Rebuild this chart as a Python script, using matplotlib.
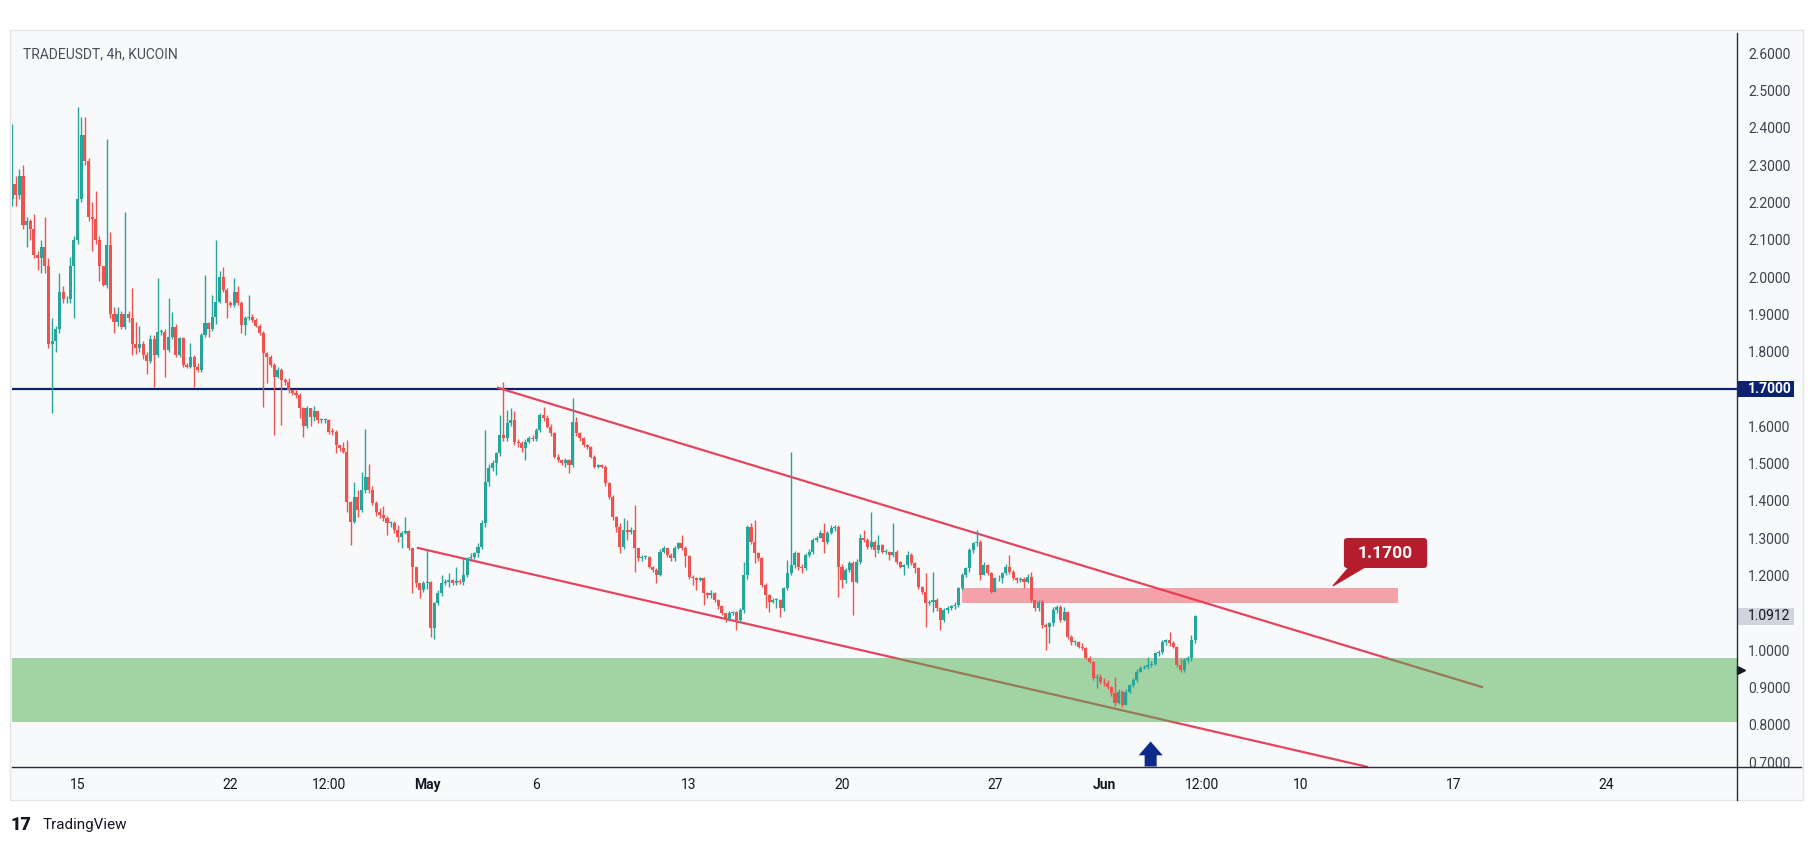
import matplotlib
matplotlib.use("Agg")
import matplotlib.pyplot as plt
import matplotlib.dates as mdates
import pandas as pd
from matplotlib.lines import Line2D
from matplotlib.patches import FancyBboxPatch, Polygon, Rectangle
from matplotlib.transforms import blended_transform_factory

plt.rcParams["font.family"] = ["Roboto", "DejaVu Sans"]

# 4h candles, first candle opens 2024-04-12 00:00
FIRST_OPEN = 2.21
CLOSE = [
    2.25, 2.22, 2.27, 2.14, 2.15, 2.13, 2.06, 2.05, 2.08, 2.03,
    1.82, 1.83, 1.86, 1.96, 1.94, 1.94, 2.03, 2.10, 2.21, 2.38,
    2.31, 2.16, 2.155, 2.10, 2.03, 1.98, 2.085, 1.90, 1.88, 1.90,
    1.865, 1.90, 1.89, 1.82, 1.81, 1.82, 1.79, 1.775, 1.835, 1.79,
    1.853, 1.853, 1.805, 1.84, 1.867, 1.79, 1.836, 1.765, 1.76, 1.786,
    1.76, 1.75, 1.845, 1.876, 1.86, 1.894, 1.934, 2.00, 1.965, 1.93,
    1.925, 1.961, 1.93, 1.871, 1.889, 1.893, 1.885, 1.87, 1.85, 1.796,
    1.787, 1.765, 1.733, 1.751, 1.724, 1.72, 1.697, 1.69, 1.683,
    1.648, 1.600, 1.648, 1.625, 1.640, 1.617, 1.617, 1.617, 1.586, 1.585,
    1.550, 1.543, 1.532, 1.398, 1.344, 1.411, 1.376, 1.429, 1.465, 1.429,
    1.394, 1.371, 1.362, 1.353, 1.340, 1.340, 1.322, 1.304, 1.313, 1.318,
    1.273, 1.224, 1.179, 1.161, 1.179, 1.183, 1.058, 1.126, 1.152, 1.179,
    1.183, 1.188, 1.180, 1.185, 1.183, 1.201, 1.246, 1.250, 1.259, 1.277,
    1.340, 1.451, 1.487, 1.501, 1.528, 1.577, 1.568, 1.608, 1.617, 1.559,
    1.555, 1.541, 1.559, 1.568, 1.566, 1.590, 1.630, 1.622, 1.599, 1.581,
    1.519, 1.510, 1.501, 1.510, 1.497, 1.612, 1.581, 1.568, 1.550, 1.545,
    1.519, 1.492, 1.497, 1.492, 1.447, 1.411, 1.358, 1.331,
    1.277, 1.322, 1.317, 1.322, 1.273, 1.246, 1.250, 1.250, 1.224, 1.215,
    1.201, 1.264, 1.273, 1.255, 1.246, 1.273, 1.286, 1.273, 1.251, 1.197,
    1.192, 1.188, 1.192, 1.152, 1.148, 1.152, 1.134, 1.117, 1.099, 1.081,
    1.099, 1.103, 1.081, 1.108, 1.201, 1.331, 1.291, 1.259, 1.246, 1.175,
    1.148, 1.130, 1.134, 1.134, 1.112, 1.166, 1.206, 1.228, 1.259, 1.224,
    1.219, 1.255, 1.264, 1.295, 1.300, 1.313, 1.291, 1.313, 1.327, 1.331,
    1.224, 1.188, 1.215, 1.233, 1.183, 1.237, 1.300, 1.295, 1.277, 1.291,
    1.268, 1.282, 1.264, 1.264, 1.255, 1.264, 1.237, 1.224, 1.228, 1.255,
    1.233, 1.219, 1.170, 1.157, 1.126, 1.130, 1.134, 1.112, 1.081, 1.108,
    1.112, 1.117, 1.121,
    1.166, 1.201, 1.219, 1.268, 1.286, 1.291, 1.201, 1.228, 1.206, 1.157,
    1.192, 1.192, 1.206, 1.224, 1.210, 1.192, 1.188, 1.190, 1.183, 1.197,
    1.134, 1.112, 1.130, 1.067, 1.063, 1.072, 1.108, 1.116, 1.081, 1.103,
    1.036, 1.022, 1.022, 1.009, 1.005, 0.978, 0.969, 0.924, 0.929, 0.915,
    0.913, 0.902, 0.884, 0.857, 0.889, 0.853, 0.889, 0.906, 0.920, 0.942,
    0.951, 0.956, 0.960, 0.964, 0.991, 0.996, 1.022, 1.027, 1.018, 1.009,
    0.960, 0.947, 0.973, 0.978, 1.027, 1.0912,
]
HIGH = [
    2.41, 2.27, 2.29, 2.30, 2.16, 2.155, 2.17, 2.07, 2.10, 2.16,
    2.05, 1.89, 1.87, 2.01, 1.975, 1.95, 2.055, 2.11, 2.457, 2.43,
    2.43, 2.32, 2.20, 2.23, 2.11, 2.03, 2.37, 2.12, 1.92, 1.92,
    1.91, 2.175, 1.91, 1.97, 1.88, 1.87, 1.83, 1.80, 1.845, 1.845,
    1.997, 1.86, 1.86, 1.943, 1.907, 1.875, 1.84, 1.84, 1.77, 1.822,
    1.79, 1.77, 1.85, 2.005, 1.88, 1.952, 2.099, 2.015, 2.028, 1.97,
    1.935, 1.997, 1.975, 1.935, 1.895, 1.952, 1.90, 1.89, 1.875, 1.855,
    1.80, 1.79, 1.77, 1.76, 1.755, 1.73, 1.73, 1.70, 1.70,
    1.69, 1.652, 1.655, 1.65, 1.654, 1.625, 1.622, 1.622, 1.62, 1.595,
    1.59, 1.55, 1.558, 1.563, 1.40, 1.451, 1.43, 1.478, 1.594, 1.50,
    1.44, 1.40, 1.38, 1.385, 1.36, 1.345, 1.345, 1.335, 1.318, 1.358,
    1.322, 1.26, 1.215, 1.18, 1.185, 1.268, 1.185, 1.13, 1.16, 1.201,
    1.19, 1.206, 1.19, 1.224, 1.19, 1.246, 1.25, 1.259, 1.262, 1.286,
    1.349, 1.590, 1.50, 1.51, 1.53, 1.630, 1.719, 1.644, 1.648, 1.64,
    1.565, 1.56, 1.565, 1.575, 1.578, 1.595, 1.635, 1.653, 1.63, 1.605,
    1.585, 1.525, 1.512, 1.515, 1.512, 1.675, 1.625, 1.585, 1.57, 1.552,
    1.548, 1.522, 1.50, 1.50, 1.495, 1.45, 1.415, 1.36,
    1.34, 1.353, 1.349, 1.33, 1.389, 1.275, 1.255, 1.256, 1.253, 1.226,
    1.22, 1.27, 1.28, 1.275, 1.26, 1.278, 1.29, 1.309, 1.278, 1.255,
    1.20, 1.196, 1.197, 1.195, 1.155, 1.161, 1.155, 1.136, 1.12, 1.10,
    1.105, 1.106, 1.105, 1.112, 1.237, 1.335, 1.34, 1.349, 1.262, 1.25,
    1.18, 1.15, 1.14, 1.14, 1.136, 1.17, 1.242, 1.532, 1.265, 1.262,
    1.23, 1.26, 1.27, 1.30, 1.305, 1.322, 1.34, 1.32, 1.335, 1.335,
    1.335, 1.23, 1.22, 1.24, 1.24, 1.245, 1.31, 1.322, 1.30, 1.371,
    1.295, 1.309, 1.285, 1.27, 1.265, 1.340, 1.268, 1.24, 1.232, 1.265,
    1.26, 1.236, 1.222, 1.172, 1.206, 1.135, 1.210, 1.14, 1.115, 1.112,
    1.118, 1.122, 1.13,
    1.17, 1.206, 1.224, 1.273, 1.29, 1.322, 1.295, 1.235, 1.23, 1.21,
    1.197, 1.20, 1.21, 1.23, 1.255, 1.215, 1.197, 1.195, 1.195, 1.205,
    1.21, 1.135, 1.135, 1.135, 1.072, 1.075, 1.115, 1.122, 1.12, 1.115,
    1.105, 1.04, 1.028, 1.025, 1.018, 1.008, 0.985, 0.97, 0.935, 0.935,
    0.925, 0.92, 0.905, 0.929, 0.895, 0.892, 0.895, 0.91, 0.925, 0.948,
    0.957, 0.96, 0.982, 0.97, 0.995, 1.00, 1.027, 1.03, 1.049, 1.025,
    1.012, 0.978, 0.978, 0.985, 1.04, 1.095,
]
LOW = [
    2.19, 2.19, 2.21, 2.13, 2.08, 2.10, 2.05, 2.02, 2.01, 2.01,
    1.81, 1.635, 1.80, 1.85, 1.93, 1.93, 1.93, 1.89, 2.09, 2.20,
    2.30, 2.15, 2.07, 2.09, 1.99, 1.975, 1.97, 1.89, 1.85, 1.87,
    1.86, 1.86, 1.88, 1.79, 1.795, 1.80, 1.78, 1.74, 1.77, 1.706,
    1.785, 1.845, 1.733, 1.80, 1.835, 1.785, 1.785, 1.76, 1.755, 1.755,
    1.706, 1.745, 1.745, 1.84, 1.84, 1.855, 1.875, 1.93, 1.96, 1.89,
    1.92, 1.92, 1.925, 1.85, 1.845, 1.885, 1.88, 1.865, 1.845, 1.653,
    1.715, 1.76, 1.577, 1.73, 1.603, 1.71, 1.69, 1.685, 1.675,
    1.621, 1.572, 1.595, 1.60, 1.615, 1.61, 1.61, 1.61, 1.58, 1.578,
    1.528, 1.535, 1.528, 1.371, 1.282, 1.34, 1.358, 1.37, 1.42, 1.42,
    1.39, 1.36, 1.355, 1.345, 1.309, 1.33, 1.315, 1.291, 1.273, 1.31,
    1.268, 1.152, 1.17, 1.139, 1.155, 1.165, 1.036, 1.031, 1.12, 1.145,
    1.175, 1.17, 1.175, 1.175, 1.178, 1.175, 1.195, 1.24, 1.245, 1.25,
    1.27, 1.33, 1.44, 1.48, 1.469, 1.52, 1.56, 1.56, 1.60, 1.55,
    1.545, 1.532, 1.510, 1.555, 1.56, 1.56, 1.585, 1.615, 1.595, 1.575,
    1.515, 1.505, 1.495, 1.49, 1.474, 1.49, 1.575, 1.56, 1.545, 1.54,
    1.515, 1.488, 1.488, 1.488, 1.44, 1.405, 1.35, 1.317,
    1.259, 1.272, 1.295, 1.31, 1.210, 1.24, 1.24, 1.245, 1.22, 1.21,
    1.179, 1.198, 1.26, 1.25, 1.24, 1.24, 1.27, 1.268, 1.224, 1.19,
    1.175, 1.161, 1.185, 1.121, 1.14, 1.139, 1.13, 1.11, 1.095, 1.076,
    1.078, 1.095, 1.054, 1.076, 1.10, 1.19, 1.285, 1.233, 1.24, 1.17,
    1.112, 1.103, 1.125, 1.112, 1.090, 1.105, 1.16, 1.20, 1.22, 1.215,
    1.206, 1.215, 1.25, 1.258, 1.29, 1.30, 1.259, 1.285, 1.31, 1.32,
    1.143, 1.166, 1.18, 1.21, 1.094, 1.18, 1.23, 1.29, 1.27, 1.27,
    1.250, 1.26, 1.26, 1.258, 1.242, 1.25, 1.23, 1.22, 1.201, 1.22,
    1.228, 1.206, 1.165, 1.15, 1.063, 1.12, 1.103, 1.105, 1.054, 1.076,
    1.10, 1.108, 1.11,
    1.115, 1.16, 1.195, 1.21, 1.26, 1.28, 1.188, 1.20, 1.20, 1.152,
    1.155, 1.185, 1.179, 1.20, 1.205, 1.188, 1.18, 1.183, 1.166, 1.18,
    1.13, 1.105, 1.105, 1.06, 1.000, 1.018, 1.065, 1.10, 1.075, 1.078,
    1.03, 1.015, 1.015, 1.005, 1.00, 0.975, 0.965, 0.92, 0.898, 0.91,
    0.905, 0.895, 0.878, 0.85, 0.855, 0.848, 0.852, 0.885, 0.90, 0.915,
    0.94, 0.948, 0.95, 0.955, 0.96, 0.985, 0.99, 1.015, 1.012, 1.005,
    0.955, 0.94, 0.94, 0.965, 0.97, 1.02,
]

# 1.1000 is hidden behind the last-price label in the original
PRICE_TICKS = [0.7, 0.8, 0.9, 1.0, 1.2, 1.3, 1.4, 1.5, 1.6,
               1.7, 1.8, 1.9, 2.0, 2.1, 2.2, 2.3, 2.4, 2.5, 2.6]
DATE_TICKS = ["2024-04-15", "2024-04-22", "2024-04-26 12:00", "2024-05-01",
              "2024-05-06", "2024-05-13", "2024-05-20", "2024-05-27",
              "2024-06-01", "2024-06-05 12:00", "2024-06-10", "2024-06-17",
              "2024-06-24"]
DATE_LABELS = ["15", "22", "12:00", "May", "6", "13", "20", "27", "Jun",
               "12:00", "10", "17", "24"]

LEVEL = 1.70
LAST_PRICE = 1.0912
UPPER_LINE = (["2024-05-04 04:50", "2024-06-18 08:25"], [1.704, 0.900])
LOWER_LINE = (["2024-04-30 12:45", "2024-06-13 02:00"], [1.2745, 0.6866])
GREEN_ZONE = (0.806, 0.978)
PINK_ZONE = ("2024-05-25 11:30", "2024-06-14 10:30", 1.1276, 1.167)
CALLOUT_TEXT = "1.1700"
CALLOUT_BOX = ("2024-06-11 23:30", "2024-06-15 19:00", 1.2201, 1.3005)
CALLOUT_TIP = ("2024-06-11 11:30", 1.172)
CALLOUT_BASE = ("2024-06-12 06:30", "2024-06-13 01:00", 1.226)
ARROW = ("2024-06-03 03:10", 0.688, 0.067)
MARKER_PRICE = 0.947

GREEN = "#26a69a"
RED = "#ef5350"
NAVY = "#0d226e"
CHANNEL = "#e3455f"
PANEL = "#f8f9fb"
W, H = 1815, 846


def fx(px):
    return px / W


def fy(py):
    return 1 - py / H


def dnum(s):
    return mdates.date2num(pd.Timestamp(s).to_pydatetime())


fig = plt.figure(figsize=(W / 100, H / 100), dpi=100, facecolor="white")
fig.add_artist(Rectangle((fx(10), fy(800)), fx(1803) - fx(10), fy(30) - fy(800),
                         transform=fig.transFigure, fc=PANEL, ec="#e3e5eb", lw=1, zorder=0))
ax = fig.add_axes([fx(12), fy(767), fx(1737) - fx(12), fy(33) - fy(767)])
ax.set_facecolor(PANEL)
for sp in ax.spines.values():
    sp.set_visible(False)

# drawings under the candles
ax.axhline(LEVEL, color=NAVY, lw=1.6, zorder=2)
ax.plot([dnum(t) for t in UPPER_LINE[0]], UPPER_LINE[1], color=CHANNEL, lw=1.6, zorder=2,
        solid_capstyle="butt")
ax.plot([dnum(t) for t in LOWER_LINE[0]], LOWER_LINE[1], color=CHANNEL, lw=1.6, zorder=2,
        solid_capstyle="butt")
ax.axhspan(GREEN_ZONE[0], GREEN_ZONE[1], color="#4caf50", alpha=0.5, lw=0, zorder=3)
p0, p1 = dnum(PINK_ZONE[0]), dnum(PINK_ZONE[1])
ax.add_patch(Rectangle((p0, PINK_ZONE[2]), p1 - p0, PINK_ZONE[3] - PINK_ZONE[2],
                       fc="#f23645", alpha=0.45, lw=0, zorder=3))

# candles
times = pd.date_range("2024-04-12 00:00", periods=len(CLOSE), freq="4h")
x = mdates.date2num(times.to_pydatetime())
opens = [FIRST_OPEN] + CLOSE[:-1]
colors = [GREEN if c >= o else RED for o, c in zip(opens, CLOSE)]
ax.vlines(x, LOW, HIGH, colors=colors, lw=1.0, zorder=4)
bottoms = [min(o, c) for o, c in zip(opens, CLOSE)]
heights = [max(abs(c - o), 0.0025) for o, c in zip(opens, CLOSE)]
ax.bar(x, heights, bottom=bottoms, width=0.14, color=colors, lw=0, zorder=4)

# callout
b0, b1 = dnum(CALLOUT_BOX[0]), dnum(CALLOUT_BOX[1])
ax.add_patch(Polygon([(dnum(CALLOUT_BASE[0]), CALLOUT_BASE[2]),
                      (dnum(CALLOUT_BASE[1]), CALLOUT_BASE[2]),
                      (dnum(CALLOUT_TIP[0]), CALLOUT_TIP[1])],
                     closed=True, fc="#b71c2c", ec="#b71c2c", lw=0.8, zorder=5))
ax.add_patch(FancyBboxPatch((b0, CALLOUT_BOX[2]), b1 - b0, CALLOUT_BOX[3] - CALLOUT_BOX[2],
                            boxstyle="round,pad=0,rounding_size=0.16",
                            mutation_aspect=0.0586, fc="#b71c2c", ec="none", zorder=5))
ax.text((b0 + b1) / 2, (CALLOUT_BOX[2] + CALLOUT_BOX[3]) / 2, CALLOUT_TEXT,
        ha="center", va="center", color="white", fontsize=12.5, fontweight="bold", zorder=6)

# up arrow
ax.arrow(dnum(ARROW[0]), ARROW[1], 0, ARROW[2], width=0.55, head_width=1.1,
         head_length=0.037, length_includes_head=True, fc="#0b2a8a", ec="none", zorder=5)

ax.set_xlim(dnum("2024-04-11 23:55"), dnum("2024-06-29 23:30"))
ax.set_ylim(0.6866, 2.6544)

# axes
ax.yaxis.tick_right()
ax.set_yticks(PRICE_TICKS, [f"{v:.4f}" for v in PRICE_TICKS])
ax.tick_params(axis="y", length=0, pad=8, labelsize=10, labelcolor="#3d414c")
ax.set_xticks([dnum(t) for t in DATE_TICKS], DATE_LABELS)
ax.tick_params(axis="x", length=0, pad=8, labelsize=10, labelcolor="#131722")
for lab in ax.get_xticklabels():
    if lab.get_text() in ("May", "Jun"):
        lab.set_fontweight("bold")

blend = blended_transform_factory(ax.transAxes, ax.transData)
ax.add_patch(Rectangle((1.0, LEVEL - 0.0215), 57 / 1725, 0.043, transform=blend,
                       fc=NAVY, ec="none", clip_on=False, zorder=7))
ax.text(1.0 + 11 / 1725, LEVEL, "1.7000", transform=blend, ha="left", va="center",
        color="white", fontsize=10, fontweight="bold", zorder=8, clip_on=False)
ax.add_patch(Rectangle((1.0, LAST_PRICE - 0.023), 57 / 1725, 0.046, transform=blend,
                       fc="#d1d4dc", ec="none", clip_on=False, zorder=7))
ax.text(1.0 + 11 / 1725, LAST_PRICE, f"{LAST_PRICE:.4f}", transform=blend, ha="left",
        va="center", color="#131722", fontsize=10, zorder=8, clip_on=False)
ax.plot([1.0 + 4 / 1725], [MARKER_PRICE], marker=">", ms=6, color="#131722",
        transform=blend, clip_on=False, zorder=8)

fig.add_artist(Line2D([fx(12), fx(1801)], [fy(767), fy(767)], transform=fig.transFigure,
                      color="#2a2e39", lw=1))
fig.add_artist(Line2D([fx(1737), fx(1737)], [fy(33), fy(800)], transform=fig.transFigure,
                      color="#2a2e39", lw=1))

fig.text(fx(23), fy(54), "TRADEUSDT, 4h, KUCOIN", ha="left", va="center",
         fontsize=10, color="#4a4e59")
fig.text(fx(11), fy(825), "17", ha="left", va="center", fontsize=13,
         fontweight="black", color="#131722")
fig.text(fx(43), fy(825), "TradingView", ha="left", va="center", fontsize=11,
         color="#131722")

fig.savefig("out.png", dpi=100, facecolor="white")
